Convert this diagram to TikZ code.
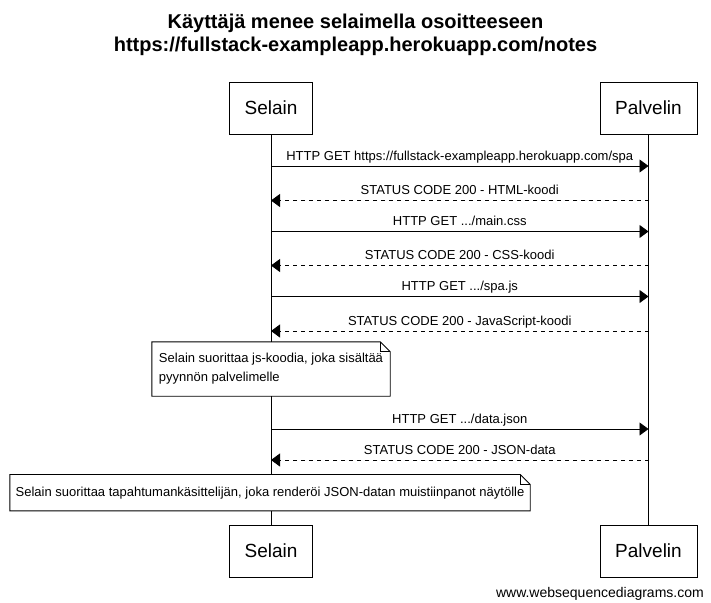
\documentclass[tikz,border=0pt]{standalone}
\usepackage{fontspec}
\setmainfont{Liberation Sans}
\usetikzlibrary{arrows.meta, positioning, calc}

\tikzset{
  actor/.style={draw, line width=0.9pt, fill=white, minimum height=52pt, inner sep=0pt,
    font=\fontsize{19}{22}\selectfont},
  msg/.style={line width=0.9pt, -{Triangle[length=9pt, width=13pt]}},
  reply/.style={msg, dash pattern=on 4pt off 4pt},
  lbl/.style={midway, anchor=base, yshift=6pt, inner sep=0pt, font=\fontsize{13}{15}\selectfont},
  notebox/.style={fill=white, inner sep=0pt, align=left, font=\fontsize{13}{19}\selectfont}
}

\begin{document}
\begin{tikzpicture}[x=1pt, y=-1pt]
  \useasboundingbox (0,0) rectangle (711,602);

  % Title
  \node[font=\bfseries\fontsize{20}{23}\selectfont, anchor=base] (title1) at (355.5,29) {Käyttäjä menee selaimella osoitteeseen};
  \node[font=\bfseries\fontsize{20}{23}\selectfont, anchor=base] (title2) at (355.5,52) {https://fullstack-exampleapp.herokuapp.com/notes};

  % Actors
  \node[actor, minimum width=83pt] (selTop) at (271,108) {Selain};
  \node[actor, minimum width=97pt] (palTop) at (648.5,108) {Palvelin};
  \node[actor, minimum width=83pt] (selBot) at (271,551) {Selain};
  \node[actor, minimum width=97pt] (palBot) at (648.5,551) {Palvelin};

  % Lifelines
  \draw[line width=0.9pt] (selTop) -- (selBot);
  \draw[line width=0.9pt] (palTop) -- (palBot);

  % Message points
  \foreach \i/\y in {1/166, 2/200.5, 3/231.5, 4/265.5, 5/296.5, 6/331, 7/429, 8/460}{
    \coordinate (s\i) at (selTop.south |- 0,\y);
    \coordinate (p\i) at (palTop.south |- 0,\y);
  }

  % Messages
  \draw[msg]   (s1) -- (p1) node[lbl] {HTTP GET https://fullstack-exampleapp.herokuapp.com/spa};
  \draw[reply] (p2) -- (s2) node[lbl] {STATUS CODE 200 - HTML-koodi};
  \draw[msg]   (s3) -- (p3) node[lbl] {HTTP GET .../main.css};
  \draw[reply] (p4) -- (s4) node[lbl] {STATUS CODE 200 - CSS-koodi};
  \draw[msg]   (s5) -- (p5) node[lbl] {HTTP GET .../spa.js};
  \draw[reply] (p6) -- (s6) node[lbl] {STATUS CODE 200 - JavaScript-koodi};
  \draw[msg]   (s7) -- (p7) node[lbl] {HTTP GET .../data.json};
  \draw[reply] (p8) -- (s8) node[lbl] {STATUS CODE 200 - JSON-data};

  % Notes
  \node[notebox, minimum width=238pt, minimum height=54pt] (note1) at (271,369)
    {Selain suorittaa js-koodia, joka sisältää\\pyynnön palvelimelle};
  \node[notebox, minimum width=520pt, minimum height=36pt] (note2) at (270,492.7)
    {Selain suorittaa tapahtumankäsittelijän, joka renderöi JSON-datan muistiinpanot näytölle};
  \foreach \n in {note1, note2}{
    \draw[line width=0.9pt] (\n.south west) -- (\n.north west) -- ([xshift=-10pt]\n.north east)
      -- ([yshift=-10pt]\n.north east) -- (\n.south east) -- cycle;
    \draw[line width=0.9pt] ([xshift=-10pt]\n.north east) |- ([yshift=-10pt]\n.north east);
  }

  % Footer
  \node[anchor=base east, inner sep=0pt, font=\fontsize{14}{16}\selectfont] (footer) at (704,597) {www.websequencediagrams.com};
\end{tikzpicture}
\end{document}
